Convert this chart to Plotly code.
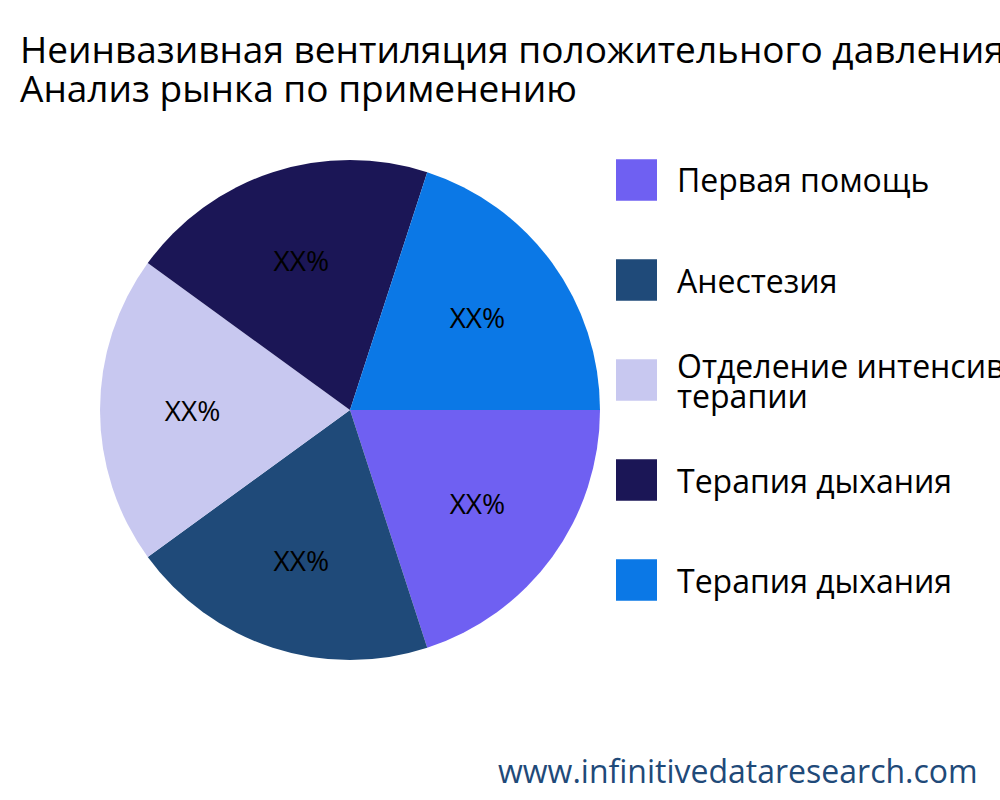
import plotly.graph_objects as go

labels = ["Первая помощь", "Анестезия", "Отделение интенсивной<br>терапии", "Терапия дыхания", "Терапия дыхания "]
values = [20, 20, 20, 20, 20]
colors = ["#6F60F2", "#1F4A79", "#C8C8F0", "#1B1656", "#0B78E6"]
text = ["XX%"] * 5
title_lines = ["Неинвазивная вентиляция положительного давления", "Анализ рынка по применению"]

fig = go.Figure(go.Pie(
    labels=labels, values=values, text=text, textinfo="text",
    marker=dict(colors=colors), sort=False, direction="clockwise", rotation=90,
    textfont=dict(size=28, color="black"), insidetextorientation="horizontal",
    domain=dict(x=[0.1, 0.6], y=[0.175, 0.8]), showlegend=False,
))

shapes, annots = [], []
for i, (lab, col) in enumerate(zip(labels, colors)):
    yc_px = 180 + 100 * i
    yc = 1 - yc_px / 800
    shapes.append(dict(type="rect", xref="paper", yref="paper", x0=0.616, x1=0.657,
                       y0=yc - 0.026, y1=yc + 0.026, fillcolor=col, line=dict(width=0)))
    lines = lab.strip().split("<br>")
    for j, ln in enumerate(lines):
        ly = yc_px + (j - (len(lines) - 1) / 2) * 30
        annots.append(dict(text=ln, x=0.675, y=1 - ly / 800, xref="paper", yref="paper", xanchor="left",
                           yanchor="middle", align="left", showarrow=False,
                           font=dict(size=32, color="black")))
annots.append(dict(text="www.infinitivedataresearch.com", x=0.98, y=1 - 770 / 800, xref="paper", yref="paper",
                   xanchor="right", yanchor="middle", showarrow=False,
                   font=dict(size=32, color="#1F4A79")))
for j, ln in enumerate(title_lines):
    annots.append(dict(text=ln, x=0.018, y=1 - (48 + 40 * j) / 800, xref="paper", yref="paper", xanchor="left",
                       yanchor="middle", align="left", showarrow=False,
                       font=dict(size=37, color="black")))

fig.update_layout(
    width=1000, height=800, paper_bgcolor="white",
    font=dict(family="Open Sans"),
    margin=dict(l=0, r=0, t=0, b=0),
    shapes=shapes, annotations=annots,
)
fig.write_html("out.html", config={"displayModeBar": False})
with open("out.html", encoding="utf-8") as f:
    html = f.read()
html = html.replace("<head>", "<head><style>body{margin:0}</style>", 1)
with open("out.html", "w", encoding="utf-8") as f:
    f.write(html)
